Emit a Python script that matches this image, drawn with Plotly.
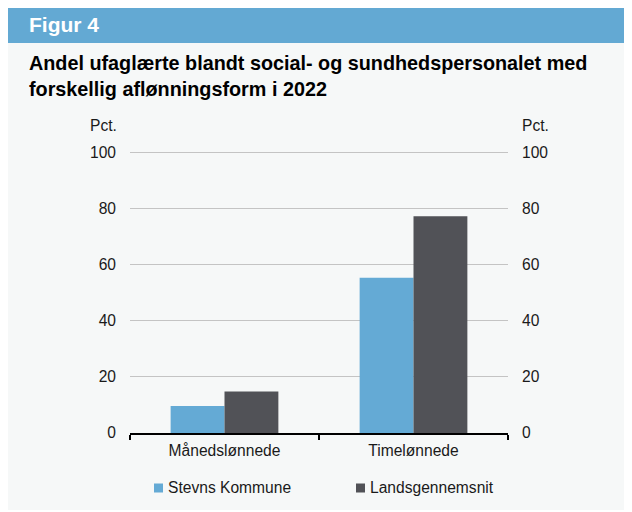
import plotly.graph_objects as go

categories = ["Månedslønnede", "Timelønnede"]
series_names = ["Stevns Kommune", "Landsgennemsnit"]
stevns = [9.6, 55.3]
lands = [14.8, 77.2]
y_ticks = [0, 20, 40, 60, 80, 100]

colors = ["#64aad5", "#515257"]
BG = "#f6f8f8"
HEAD = "#63a9d3"
FONT = "Liberation Sans, Arial, sans-serif"

W, H = 632, 512
L, R, T, B = 122, 132, 143, 87
PW = W - L - R
PH = H - T - B


def px(x):
    return (x - L) / PW


def py(y):
    return (H - B - y) / PH


fig = go.Figure()
for name, vals, col in zip(series_names, [stevns, lands], colors):
    fig.add_trace(go.Bar(x=categories, y=vals, name=name, marker_color=col,
                         marker_line_width=0, showlegend=False, hoverinfo="skip"))
fig.add_trace(go.Scatter(x=categories, y=[None, None], yaxis="y2", showlegend=False,
                         hoverinfo="skip", mode="markers"))

shapes = [
    dict(type="rect", xref="paper", yref="paper", x0=px(0), x1=px(640), y0=py(35), y1=py(-2),
         fillcolor=HEAD, line_width=0, layer="below"),
    dict(type="rect", xref="paper", yref="paper", x0=px(0), x1=px(640), y0=py(502), y1=py(35),
         fillcolor=BG, line_width=0, layer="below"),
]
txt_col = "#1a1a1a"
annotations = [
    dict(text="<b>Figur 4</b>", x=px(19), y=py(17), xref="paper", yref="paper",
         xanchor="left", yanchor="middle", showarrow=False,
         font=dict(family=FONT, size=21, color="white")),
    dict(text="<b>Andel ufaglærte blandt social- og sundhedspersonalet med<br>forskellig aflønningsform i 2022</b>",
         x=px(19), y=py(68), xref="paper", yref="paper", align="left",
         xanchor="left", yanchor="middle", showarrow=False,
         font=dict(family=FONT, size=19.8, color="black")),
    dict(text="Pct.", x=px(95), y=py(118), xref="paper", yref="paper",
         xanchor="center", yanchor="middle", showarrow=False,
         font=dict(family=FONT, size=15.6, color=txt_col)),
    dict(text="Pct.", x=px(527), y=py(118), xref="paper", yref="paper",
         xanchor="center", yanchor="middle", showarrow=False,
         font=dict(family=FONT, size=15.6, color=txt_col)),
]
legend_pos = [(146, 158), (348, 360)]
for (sx, tx), name, col in zip(legend_pos, series_names, colors):
    shapes.append(dict(type="rect", xref="paper", yref="paper", x0=px(sx), x1=px(sx + 9),
                       y0=py(484.5), y1=py(475.5), fillcolor=col, line_width=0))
    annotations.append(dict(text=name, x=px(tx), y=py(480), xref="paper", yref="paper",
                            xanchor="left", yanchor="middle", showarrow=False,
                            font=dict(family=FONT, size=15.6, color=txt_col)))

axis_font = dict(family=FONT, size=15.6, color=txt_col)
y_range = [0, 100.4]
fig.update_layout(
    width=W, height=H, autosize=False,
    margin=dict(l=L, r=R, t=T, b=B, pad=0),
    paper_bgcolor="white", plot_bgcolor=BG,
    barmode="group", bargap=0.43, bargroupgap=0,
    shapes=shapes, annotations=annotations,
    font=axis_font,
    xaxis=dict(showline=True, linecolor="black", linewidth=1.5, ticks="outside",
               tickson="boundaries", ticklen=5, tickwidth=1.5, tickcolor="black",
               showgrid=False, zeroline=False, tickfont=axis_font, ticklabelstandoff=3),
    yaxis=dict(range=y_range, tickvals=y_ticks, showgrid=True, gridcolor="#c4c4c4",
               gridwidth=1, zeroline=False, showline=False, ticks="",
               tickfont=axis_font, ticklabelstandoff=13),
    yaxis2=dict(range=y_range, tickvals=y_ticks, overlaying="y", side="right",
                showgrid=False, zeroline=False, showline=False, ticks="",
                tickfont=axis_font, ticklabelstandoff=13),
)

fig.write_html("out.html")
